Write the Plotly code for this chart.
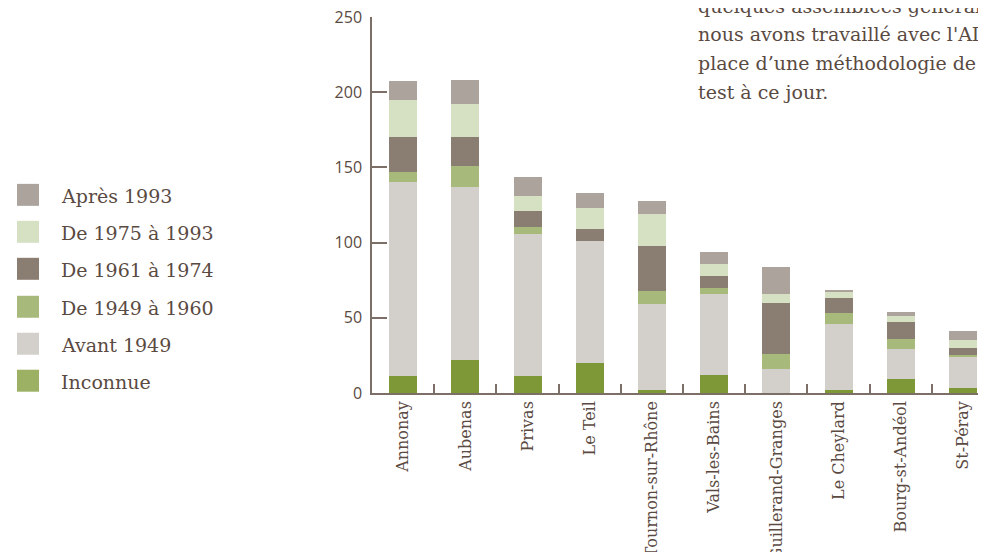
import plotly.graph_objects as go

categories = ["Annonay", "Aubenas", "Privas", "Le Teil", "Tournon-sur-Rhône",
              "Vals-les-Bains", "Guillerand-Granges", "Le Cheylard",
              "Bourg-st-Andéol", "St-Péray"]

inconnue = [11.5, 22, 11.5, 20, 2, 12, 0, 2, 9.5, 3.5]
avant_1949 = [128.5, 115, 94.5, 81, 57.5, 53.5, 16, 44, 20, 20.5]
de_1949_1960 = [7, 14, 4.5, 0, 8.5, 4.5, 10, 7.5, 6.5, 1.5]
de_1961_1974 = [23, 19, 10.5, 8, 30, 8, 34, 10, 11.5, 4.5]
de_1975_1993 = [25, 22, 10, 14, 21, 7.5, 6, 4, 4, 5.5]
apres_1993 = [12.5, 16, 12.5, 10, 8.5, 8, 18, 0.5, 2.5, 6]

series_names = ["Inconnue", "Avant 1949", "De 1949 à 1960", "De 1961 à 1974",
                "De 1975 à 1993", "Après 1993"]
series_values = [inconnue, avant_1949, de_1949_1960, de_1961_1974,
                 de_1975_1993, apres_1993]
bar_colors = ["#7e9737", "#d3cfcb", "#a8ba7b", "#8a7d72", "#d6e0c3", "#aba39c"]
legend_colors = ["#9db165", "#d3cfcb", "#a8ba7b", "#8a7d72", "#d6e0c3", "#aba39c"]

paragraph = ["quelques assemblées générales ont été",
             "nous avons travaillé avec l'ADIL à la mise en",
             "place d’une méthodologie de diagnostic",
             "test à ce jour."]

TXT = "#5a4a42"
AX = "#7b6f68"
SERIF = "DejaVu Serif"

fig = go.Figure()
for name, vals, col in zip(series_names, series_values, bar_colors):
    fig.add_trace(go.Bar(x=categories, y=vals, name=name,
                         marker=dict(color=col, line=dict(width=0)),
                         width=0.45, showlegend=False))

# the page body has an 8px margin: work in screen pixels and shift
OFF = 8
W, H = 978, 544
L, R, T = 372 - OFF, 0, 17 - OFF
B = H - (393.3 - OFF)
pw, ph = W - L - R, H - T - B

def px(x):
    return (x - OFF - L) / pw

def py(y):
    return (H - B - (y - OFF)) / ph

shapes = []
annotations = []
row_y = [195, 232, 269, 307, 344, 381]
for i, (name, col) in enumerate(zip(series_names[::-1], legend_colors[::-1])):
    cy = row_y[i]
    shapes.append(dict(type="rect", xref="paper", yref="paper",
                       x0=px(17), x1=px(39), y0=py(cy + 11), y1=py(cy - 11),
                       fillcolor=col, line=dict(width=0), layer="above"))
    annotations.append(dict(text=name, xref="paper", yref="paper",
                            x=px(59), y=py(cy + 1), xanchor="left", yanchor="middle",
                            showarrow=False, font=dict(family=SERIF, size=19, color=TXT)))

base_y = [12, 40.5, 69, 98]
for line, by in zip(paragraph, base_y):
    annotations.append(dict(text=line, xref="paper", yref="paper",
                            x=px(696), y=py(by - 6), xanchor="left", yanchor="middle",
                            showarrow=False, font=dict(family=SERIF, size=19, color=TXT)))

fig.update_layout(
    template="none",
    width=W, height=H,
    margin=dict(l=L, r=R, t=T, b=B, pad=0, autoexpand=False),
    barmode="stack",
    plot_bgcolor="white", paper_bgcolor="white",
    shapes=shapes, annotations=annotations,
    xaxis=dict(type="category", range=[-0.5, 9.37], showgrid=False, automargin=False,
               showline=True, linecolor=AX, linewidth=1.5, ticklabeloverflow="allow",
               ticks="inside", tickson="boundaries", ticklen=9, tickcolor=AX, tickwidth=1.5,
               tickangle=-90, tickfont=dict(family=SERIF, size=16, color=TXT)),
    yaxis=dict(range=[0, 250], tickvals=[0, 50, 100, 150, 200, 250], showgrid=False,
               automargin=False, zeroline=False, showline=True, linecolor=AX, linewidth=1.5,
               ticklabeloverflow="allow", ticklabelstandoff=5,
               ticks="inside", ticklen=15, tickcolor=AX, tickwidth=1.5,
               tickfont=dict(family="Open Sans", size=16, color=TXT)),
)

fig.write_html("out.html")
